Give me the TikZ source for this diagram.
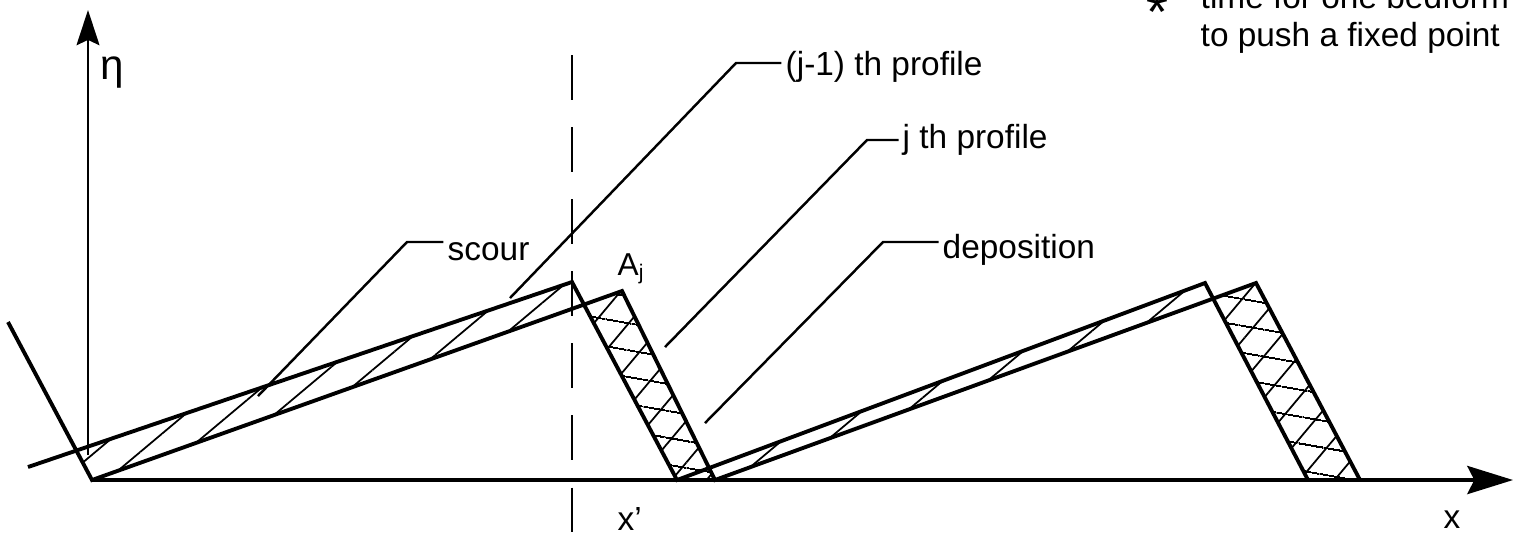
\documentclass[tikz,border=0pt]{standalone}
\usepackage{fontspec}
\setmainfont{Liberation Sans}
\usetikzlibrary{arrows.meta,patterns.meta}

\tikzset{
  profile/.style={line width=1.1pt,line join=miter},
  leader/.style={line width=0.7pt},
  scourhatch/.style={pattern={Lines[angle=40,distance=8.2pt,line width=0.5pt]}},
  crossA/.style={pattern={Lines[angle=-10,distance=7.4pt,line width=0.5pt]}},
  crossB/.style={pattern={Lines[angle=50,distance=7.6pt,line width=0.5pt]}},
  lbl/.style={inner sep=0pt,font=\fontsize{9.5}{11}\selectfont},
}

\begin{document}
\begin{tikzpicture}[x=0.01cm,y=-0.01cm]
  \useasboundingbox (0,0) rectangle (1525,532);
  \clip (0,0) rectangle (1525,532);
  % profile corners
  \coordinate (o) at (92,480);
  \coordinate (lee0) at (8,322);
  \coordinate (aL) at (28,467);
  \coordinate (crA1) at (572,282);
  \coordinate (crB1) at (622,291);
  \coordinate (ftA1) at (677,480);
  \coordinate (ftB1) at (715,480);
  \coordinate (crA2) at (1205,283);
  \coordinate (crB2) at (1256,283);
  \coordinate (ftA2) at (1308,480);
  \coordinate (ftB2) at (1360,480);
  \coordinate (cx0) at (intersection of aL--crA1 and lee0--o);
  \coordinate (cx1) at (intersection of o--crB1 and crA1--ftA1);
  \coordinate (cx2) at (intersection of crB1--ftB1 and ftA1--crA2);
  \coordinate (cx3) at (intersection of ftB1--crB2 and crA2--ftA2);
  % scour and deposition hatching
  \fill[scourhatch] (cx0) -- (crA1) -- (cx1) -- (o) -- cycle;
  \fill[scourhatch] (cx2) -- (crA2) -- (cx3) -- (ftB1) -- cycle;
  \foreach \p in {crossA,crossB}{
    \fill[\p] (cx1) -- (crB1) -- (ftB1) -- (ftA1) -- cycle;
    \fill[\p] (cx3) -- (crB2) -- (ftB2) -- (ftA2) -- cycle;
  }
  % the two profiles
  \draw[profile] (lee0) -- (o) -- (crB1) -- (ftB1) -- (crB2) -- (ftB2);
  \draw[profile] (aL) -- (crA1) -- (ftA1) -- (crA2) -- (ftA2);
  % axes
  \coordinate (xtip) at (1513,480);
  \coordinate (yfoot) at (88,455);
  \coordinate (ytip) at (88,10);
  \draw[line width=1.1pt,-{Stealth[length=13pt,width=8pt,inset=2pt]}] (o) -- (xtip);
  \draw[line width=0.7pt,-{Stealth[length=10pt,width=6.5pt,inset=1.5pt]}] (yfoot) -- (ytip);
  \coordinate (xptop) at (572,55);
  \coordinate (xpbot) at (572,532);
  \draw[line width=0.7pt,dash pattern=on 12.8pt off 7.7pt] (xptop) -- (xpbot);
  % labels
  \node[lbl,font=\fontsize{12}{14}\selectfont] (eta) at (112,72) {η};
  \node[lbl,anchor=base west] (xlbl) at (1443,528) {x};
  \node[lbl,anchor=base west] (xplbl) at (617,530) {x'};
  \node[lbl,anchor=base west,font=\fontsize{9}{10}\selectfont] (aj) at (617,275) {A\textsubscript{j}};
  \node[lbl,anchor=base west] (scour) at (447,260) {scour};
  \node[lbl,anchor=base west] (prevprof) at (785,75) {(j-1) th profile};
  \node[lbl,anchor=base west] (curprof) at (902,148) {j th profile};
  \node[lbl,anchor=base west] (depo) at (942,258) {deposition};
  \node[lbl,anchor=base west] (noteA) at (1200,8) {time for one bedform};
  \node[lbl,anchor=base west] (noteB) at (1200,46) {to push a fixed point};
  \node[lbl,font=\fontsize{16}{16}\selectfont] (star) at (1157,12) {*};
  % leaders
  \coordinate (scourbend) at (407,242);
  \coordinate (scourtip) at (258,396);
  \coordinate (prevbend) at (736,63);
  \coordinate (prevtip) at (510,298);
  \coordinate (curbend) at (867,140);
  \coordinate (curtip) at (665,347);
  \coordinate (depobend) at (883,242);
  \coordinate (depotip) at (705,423);
  \draw[leader] (scourtip) -- (scourbend) -- ([xshift=-1pt]scourbend -| scour.west);
  \draw[leader] (prevtip) -- (prevbend) -- ([xshift=-1pt]prevbend -| prevprof.west);
  \draw[leader] (curtip) -- (curbend) -- ([xshift=-1pt]curbend -| curprof.west);
  \draw[leader] (depotip) -- (depobend) -- ([xshift=-1pt]depobend -| depo.west);
\end{tikzpicture}
\end{document}
